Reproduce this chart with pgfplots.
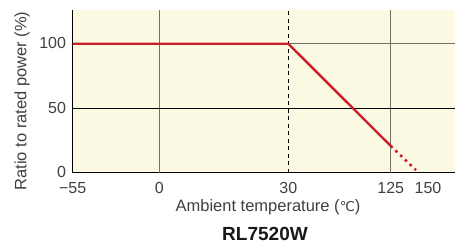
\documentclass[border=0pt]{standalone}
\usepackage{pgfplots}
\pgfplotsset{compat=1.18}
\usepackage{fontspec}
\setmainfont{Liberation Sans}
\newfontfamily\dejavu{DejaVu Sans}
\definecolor{bgyellow}{HTML}{FCFAE2}
\definecolor{gridgray}{HTML}{707068}
\definecolor{linered}{HTML}{C8202A}
\begin{document}
\begin{tikzpicture}
\useasboundingbox (-72.7pt,-76.3pt) rectangle (392.3pt,172.7pt);
\begin{axis}[
  scale only axis,
  width=382.3pt, height=162.7pt,
  xmin=72.7, xmax=455, ymin=0, ymax=126.2,
  axis x line=bottom, axis y line=left,
  axis line style={black, line width=0.9pt, -},
  axis background/.style={fill=bgyellow},
  xtick={72.7,159.3,288.3,390.7,428},
  xticklabels={−55,0,30,125,150},
  ytick={0,50,100},
  major tick length=0pt,
  tick label style={font=\fontsize{16}{19}\selectfont, text=black!75, inner sep=0pt},
  /pgf/number format/assume math mode=true,
  xticklabel style={anchor=center, yshift=-15pt},
  yticklabel style={anchor=east, xshift=-6.5pt, yshift=0.5pt},
  clip=false,
]
\draw[gridgray, line width=1.4pt] (axis cs:159.3,0) -- (axis cs:159.3,126.2);
\draw[gridgray, line width=1.4pt] (axis cs:390.7,0) -- (axis cs:390.7,126.2);
\draw[gridgray, line width=1.4pt] (axis cs:288.3,100) -- (axis cs:455,100);
\draw[black, line width=0.9pt] (axis cs:72.7,50) -- (axis cs:455,50);
\draw[black, line width=0.9pt, dash pattern=on 4pt off 3.5pt] (axis cs:288.3,0) -- (axis cs:288.3,126.2);
\addplot[linered, line width=2.4pt, line join=round] coordinates {(72.7,100) (288.3,100) (390.7,20.8)};
\addplot[linered, line width=2.6pt, dash pattern=on 2.6pt off 4pt] coordinates {(390.7,20.8) (416,2)};
\end{axis}
\node[rotate=90, font=\fontsize{16.5}{19}\selectfont, text=black!75] at (-50.7pt,71.7pt) {Ratio to rated power (\%)};
\node[font=\fontsize{16.5}{19}\selectfont, text=black!75] at (195.3pt,-35pt) {Ambient temperature ({\dejavu\fontsize{13.5}{16}\selectfont ℃})};
\node[font=\fontsize{19}{22}\selectfont\bfseries, text=black!90] at (192.3pt,-61pt) {RL7520W};
\end{tikzpicture}
\end{document}
